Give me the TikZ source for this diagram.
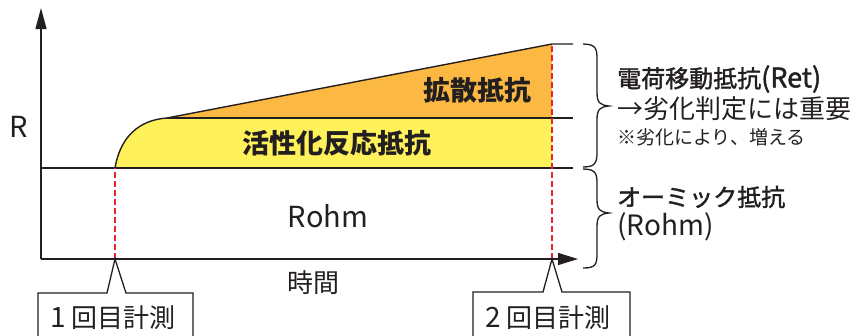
\documentclass[tikz,border=0pt]{standalone}
\usepackage{fontspec}
\setmainfont{Noto Sans CJK JP}
\newfontfamily\cjksemi[FakeBold=1.6]{Noto Sans CJK JP}
\usetikzlibrary{arrows.meta}
\definecolor{ink}{HTML}{231F20}
\definecolor{yel}{HTML}{FFF15A}
\definecolor{org}{HTML}{FBB843}
\definecolor{redm}{HTML}{E8262A}
\begin{document}
\begin{tikzpicture}[x=1pt,y=-1pt,
  axis/.style={draw=ink, line width=1.4pt},
  meas/.style={draw=redm, line width=2pt, dash pattern=on 6pt off 3pt},
  callout/.style={draw=ink, line width=1.3pt, fill=white},
  bracepath/.style={draw=ink, line width=1.3pt},
  txt/.style={inner sep=0pt, text=ink},
  big/.style={txt, font=\fontsize{27}{30}\selectfont\bfseries},
  mid/.style={txt, font=\fontsize{26}{30}\selectfont},
  lat/.style={txt, font=\fontsize{29}{32}\selectfont},
  side/.style={txt, anchor=west, font=\fontsize{24}{28}\selectfont},
  note/.style={txt, anchor=west, font=\fontsize{19}{22}\selectfont}]
\useasboundingbox (0,0) rectangle (859,335);
% key points
\coordinate (O) at (41,259);
\coordinate (Ytip) at (41,8);
\coordinate (Xtip) at (578,259);
\coordinate (m1) at (115,259);
\coordinate (m1top) at (115,168);
\coordinate (m2) at (552,259);
\coordinate (m2top) at (552,44);
\coordinate (k) at (167,118);
% fills
\fill[yel] (m1top) .. controls (120,138) and (138,120) .. (k) -- (552,118) -- (552,168) -- cycle;
\fill[org] (k) -- (m2top) -- (552,118) -- cycle;
% level lines
\draw[axis] (41,168) -- (573,168);
\draw[axis] (k) -- (573,118);
\draw[axis] (m1top) .. controls (120,138) and (138,120) .. (k) -- (m2top) -- (573,44);
% measurement lines
\draw[meas] (m1) -- (m1top);
\draw[meas] (m2) -- (m2top);
% axes
\draw[axis, -{Triangle[length=21pt,width=11pt]}] (O) -- (Ytip);
\draw[axis, -{Triangle[length=20pt,width=12pt]}] (O) -- (Xtip);
% callouts
\draw[callout] (38,345) -- (38,293) -- (107,293) -- (m1) -- (126,293) -- (193,293) -- (193,345);
\draw[callout] (473,345) -- (473,292) -- (543,292) -- (m2) -- (562,292) -- (630,292) -- (630,345);
% braces
\draw[bracepath] (583,44) .. controls (597,44) and (597,50) .. (597,60) -- (597,92)
  .. controls (597,103) and (600,105) .. (609,106)
  .. controls (600,107) and (597,109) .. (597,120) -- (597,152)
  .. controls (597,163) and (595,167) .. (583,167);
\draw[bracepath] (583,169) .. controls (597,169) and (597,175) .. (597,185) -- (597,199)
  .. controls (597,210) and (600,212) .. (609,213)
  .. controls (600,214) and (597,216) .. (597,227) -- (597,254)
  .. controls (597,265) and (595,268) .. (583,268);
% labels
\node[lat] (R) at (19,127) {R};
\node[lat] (rohm) at (328,216) {Rohm};
\node[mid] (time) at (313,283) {時間};
\node[big] (act) at (337,143) {活性化反応抵抗};
\node[big] (dif) at (477,90) {拡散抵抗};
\node[mid] (c1) at (113,318) {{\fontsize{28}{30}\selectfont 1} 回目計測};
\node[mid] (c2) at (548,318) {{\fontsize{28}{30}\selectfont 2} 回目計測};
\node[side, font=\fontsize{24}{28}\selectfont\cjksemi] (t1) at (617,79) {電荷移動抵抗{\fontsize{27}{28}\selectfont(Ret)}};
\node[side, font=\fontsize{26}{28}\selectfont] (t2) at (617,109) {→劣化判定には重要};
\node[note] (t3) at (617,137) {※劣化により、増える};
\node[side, font=\fontsize{24}{28}\selectfont\cjksemi] (t4) at (617,197) {オーミック抵抗};
\node[side, font=\fontsize{28}{30}\selectfont] (t5) at (617,227) {(Rohm)};
\end{tikzpicture}
\end{document}
